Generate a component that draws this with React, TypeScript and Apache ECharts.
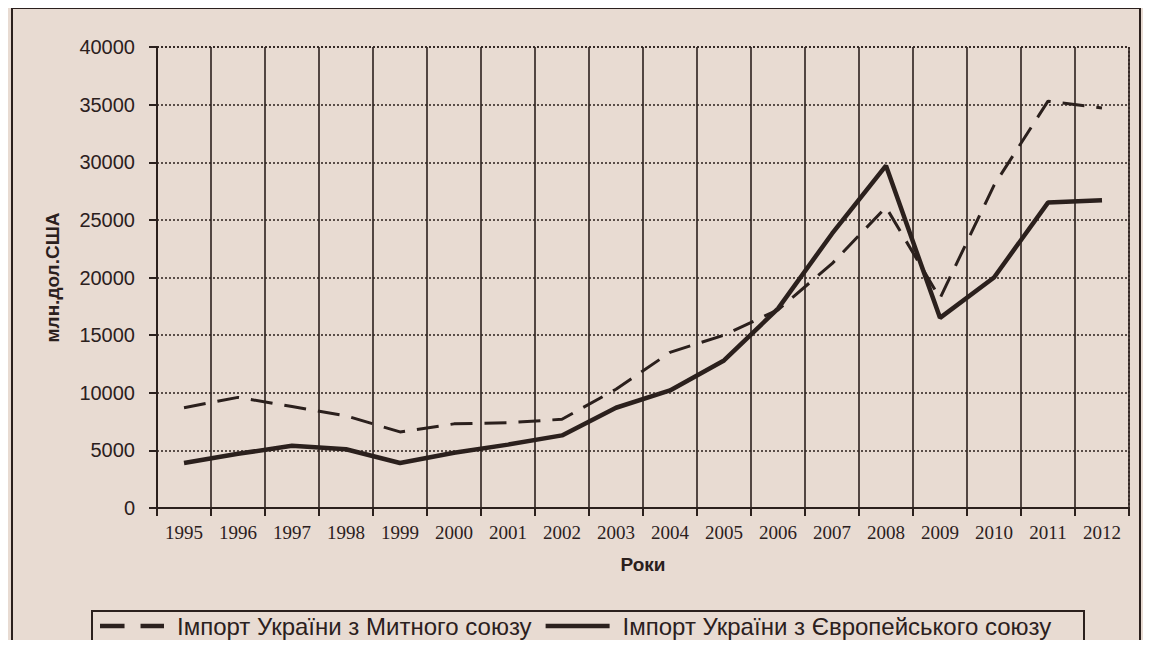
import React, { useEffect, useRef } from "react";
import * as echarts from "echarts";

const years = ["1995","1996","1997","1998","1999","2000","2001","2002","2003","2004","2005","2006","2007","2008","2009","2010","2011","2012"];
const customsUnion = [8700, 9600, 8800, 8000, 6600, 7300, 7400, 7700, 10300, 13500, 15000, 17200, 21200, 26100, 18200, 28000, 35300, 34700];
const euImport = [3900, 4700, 5400, 5100, 3900, 4800, 5500, 6300, 8700, 10200, 12800, 17300, 23800, 29700, 16500, 20000, 26500, 26700];
const seriesNames = ["Імпорт України з Митного союзу", "Імпорт України з Європейського союзу"];

const ink = "#2b201d";
const bg = "#e8dbd2";

export default function App() {
  const ref = useRef<HTMLDivElement>(null);
  useEffect(() => {
    const chart = echarts.init(ref.current!, null, { renderer: "svg" });
    chart.setOption({
      animation: false,
      backgroundColor: bg,
      grid: { left: 157, right: 22, top: 47, bottom: 140, containLabel: false },
      xAxis: {
        type: "category",
        data: years,
        boundaryGap: true,
        name: "Роки",
        nameLocation: "middle",
        nameGap: 47,
        nameTextStyle: { fontFamily: "Liberation Sans", fontWeight: "bold", fontSize: 19, color: ink },
        axisLine: { lineStyle: { color: ink, width: 2 } },
        axisTick: { show: true, length: 8, lineStyle: { color: ink, width: 2 } },
        axisLabel: { fontFamily: "Liberation Serif", fontSize: 19, color: ink, margin: 15 },
        splitLine: { show: true, lineStyle: { color: ink, width: 1.6, type: "solid" } },
      },
      yAxis: {
        type: "value",
        min: 0,
        max: 40000,
        interval: 5000,
        name: "млн.дол.США",
        nameLocation: "middle",
        nameGap: 95,
        nameTextStyle: { fontFamily: "Liberation Sans", fontWeight: "bold", fontSize: 19, color: ink },
        axisLine: { show: true, lineStyle: { color: ink, width: 2 } },
        axisTick: { show: true, length: 8, lineStyle: { color: ink, width: 2 } },
        axisLabel: { fontFamily: "Liberation Sans", fontSize: 20, color: ink, margin: 22, formatter: (v: number) => String(v) },
        splitLine: { show: true, lineStyle: { color: ink, width: 1.5, type: [2, 2] } },
      },
      legend: {
        top: 614,
        left: 100,
        itemGap: 14,
        padding: 0,
        textStyle: { fontFamily: "Liberation Sans", fontSize: 24, color: ink, padding: [0, 0, 0, 8] },
        data: [
          { name: seriesNames[0], icon: "path://M0,0h23v4h-23z M38,0h22v4h-22z", itemStyle: { color: ink } },
          { name: seriesNames[1], icon: "path://M0,0h60v4h-60z", itemStyle: { color: ink } },
        ],
        itemWidth: 64,
        itemHeight: 4.5,
      },
      graphic: [
        { type: "rect", shape: { x: 12, y: 8, width: 1128, height: 650 }, style: { fill: "none", stroke: ink, lineWidth: 2 }, silent: true },
        { type: "rect", shape: { x: 92, y: 611, width: 992, height: 35 }, style: { fill: "none", stroke: ink, lineWidth: 2 }, silent: true },
        { type: "line", shape: { x1: 157, y1: 47, x2: 1129, y2: 47 }, style: { stroke: ink, lineWidth: 1.5, lineDash: [2, 2] }, silent: true },
        { type: "line", shape: { x1: 1129, y1: 47, x2: 1129, y2: 508 }, style: { stroke: ink, lineWidth: 1.5, lineDash: [2, 2] }, silent: true },
      ],
      series: [
        {
          name: seriesNames[0],
          type: "line",
          data: customsUnion,
          symbol: "none",
          lineStyle: { color: ink, width: 3, type: [22, 12] },
          itemStyle: { color: ink },
        },
        {
          name: seriesNames[1],
          type: "line",
          data: euImport,
          symbol: "none",
          lineStyle: { color: ink, width: 4.5, type: "solid" },
          itemStyle: { color: ink },
        },
      ],
    });
    return () => chart.dispose();
  }, []);
  return <div ref={ref} style={{ width: 1151, height: 648, margin: -8 }} />;
}
